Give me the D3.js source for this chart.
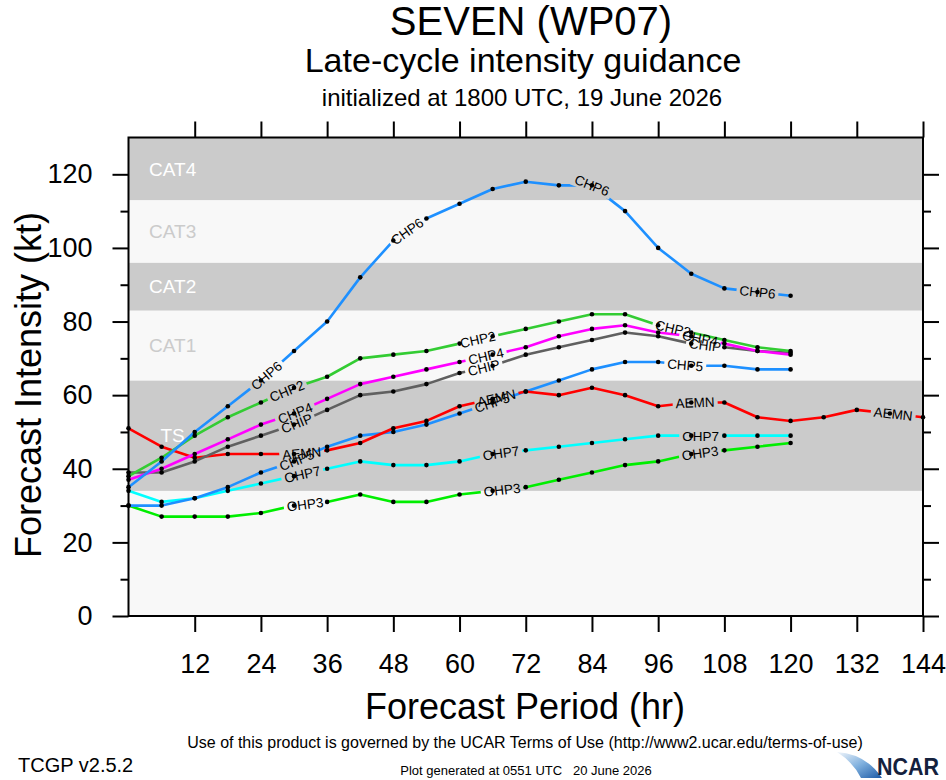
<!DOCTYPE html>
<html><head><meta charset="utf-8">
<script src="https://cdn.jsdelivr.net/npm/d3@7"></script>
<style>
body{margin:0;background:#fff}
svg{display:block}
text{font-family:"Liberation Sans",Arial,Helvetica,sans-serif}
</style>
</head><body>
<svg id="c" width="946" height="780"></svg>
<script>
// ---------------- data ----------------
const hours = d3.range(0, 121, 6);
const hoursLong = d3.range(0, 145, 6);

const CHP6 = [35,42,50,57,64,72,80,92,102,108,112,116,118,117,117,110,100,93,89,88,87];
const CHP2 = [38,43,49,54,58,62,65,70,71,72,74,76,78,80,82,82,79,77,75,73,72];
const CHP4 = [37,40,44,48,52,55,59,63,65,67,69,71,73,76,78,79,77,76,74,72,71];
const CHIP = [39,39,42,46,49,52,56,60,61,63,66,68,71,73,75,77,76,74,73,72,71.5];
const AEMN = [51,46,43,44,44,44,45,47,51,53,57,59,61,60,62,60,57,58,58,54,53,54,56,55,54];
const CHP5 = [30,30,32,35,39,42,46,49,50,52,55,58,61,64,67,69,69,68,68,67,67];
const OHP7 = [34,31,32,34,36,38,40,42,41,41,42,44,45,46,47,48,49,49,49,49,49];
const OHP3 = [30,27,27,27,28,30,31,33,31,31,33,34,35,37,39,41,42,44,45,46,47];

// hours at which each series carries its inline name label
const labCHP6 = [25, 50.5, 84, 114];
const labCHP2 = [28.7, 63.3, 98.7];
const labCHP4 = [30.2, 64.8, 103.6];
const labCHIP = [30.5, 64.4, 104.5];
const labAEMN = [31.4, 66.7, 102.7, 138.6];
const labCHP5 = [30.5, 65.9, 100.9];
const labOHP7 = [31.5, 67.5, 103.7];
const labOHP3 = [32, 67.7, 103.6];

const seriesNames  = ["OHP3","OHP7","CHP5","AEMN","CHIP","CHP4","CHP2","CHP6"];
const seriesValues = [OHP3, OHP7, CHP5, AEMN, CHIP, CHP4, CHP2, CHP6];
const seriesLabels = [labOHP3, labOHP7, labCHP5, labAEMN, labCHIP, labCHP4, labCHP2, labCHP6];
const seriesColors = ["#00ee00","#00ffff","#1e90ff","#ff0000","#606060","#ff00ff","#33cc33","#1e90ff"];

// intensity category bands (kt)
const bandNames = ["TS","CAT1","CAT2","CAT3","CAT4"];
const bandLow   = [34, 64, 83, 96, 113];
const bandHigh  = [64, 83, 96, 113, 130];

const xTicks = [12,24,36,48,60,72,84,96,108,120,132,144];
const yTicks = [0,20,40,60,80,100,120];
const yMinor = [10,30,50,70,90,110];

// ---------------- chart ----------------
const svg = d3.select("#c");
const FONT = '"Liberation Sans",Arial,Helvetica,sans-serif';
const x = d3.scaleLinear().domain([0,144]).range([128.5, 923]);
const y = d3.scaleLinear().domain([0,130]).range([616, 137.5]);

const defs = svg.append("defs");

// plot background and bands
svg.append("rect")
  .attr("x", x(0)).attr("y", y(130))
  .attr("width", x(144)-x(0)).attr("height", y(0)-y(130))
  .attr("fill", "#f8f8f8");

const bands = bandNames.map((n,i)=>({name:n, lo:bandLow[i], hi:bandHigh[i], dark:i%2===0}));
svg.selectAll("rect.band").data(bands).join("rect")
  .attr("class","band")
  .attr("x", x(0)).attr("width", x(144)-x(0))
  .attr("y", d=>y(d.hi)).attr("height", d=>y(d.lo)-y(d.hi))
  .attr("fill", d=>d.dark ? "#cbcbcb" : "#f8f8f8");
svg.selectAll("text.band").data(bands).join("text")
  .attr("class","band")
  .attr("x", x(8)).attr("y", d=>y((d.lo+d.hi)/2))
  .attr("dy","0.36em")
  .attr("text-anchor","middle")
  .attr("font-size", 19)
  .attr("fill", d=>d.dark ? "#ffffff" : "#cbcbcb")
  .text(d=>d.name);

// series
const series = seriesNames.map((n,i)=>{
  const hs = seriesValues[i].length === hoursLong.length ? hoursLong : hours;
  return {name:n, color:seriesColors[i], labels:seriesLabels[i],
          pts: seriesValues[i].map((v,j)=>({h:hs[j], v:v}))};
});
function valAt(pts, h){
  for(let j=0;j<pts.length-1;j++){
    if(h>=pts[j].h && h<=pts[j+1].h){
      const t=(h-pts[j].h)/(pts[j+1].h-pts[j].h);
      return pts[j].v+(pts[j+1].v-pts[j].v)*t;
    }
  }
  return pts[pts.length-1].v;
}
const line = d3.line().x(d=>x(d.h)).y(d=>y(d.v));

const lineG = svg.append("g");
const dotG = svg.append("g");
const labG = svg.append("g");

series.forEach((s,i)=>{
  const maskId = "m"+i;
  const mask = defs.append("mask").attr("id",maskId).attr("maskUnits","userSpaceOnUse")
    .attr("x",0).attr("y",0).attr("width",946).attr("height",780);
  mask.append("rect").attr("x",0).attr("y",0).attr("width",946).attr("height",780).attr("fill","#fff");

  lineG.append("path").datum(s.pts)
    .attr("d", line)
    .attr("fill","none")
    .attr("stroke", s.color)
    .attr("stroke-width", 2.6)
    .attr("stroke-linejoin","round")
    .attr("mask", `url(#${maskId})`);

  dotG.selectAll(null).data(s.pts).join("circle")
    .attr("cx", d=>x(d.h)).attr("cy", d=>y(d.v))
    .attr("r", 2.3).attr("fill","#000");

  s.labels.forEach(h=>{
    const px = x(h), py = y(valAt(s.pts,h));
    const h0 = Math.max(s.pts[0].h, h-3), h1 = Math.min(s.pts[s.pts.length-1].h, h+3);
    const ang = Math.atan2(y(valAt(s.pts,h1))-y(valAt(s.pts,h0)), x(h1)-x(h0))*180/Math.PI;
    const t = labG.append("text")
      .attr("transform", `translate(${px},${py}) rotate(${ang})`)
      .attr("text-anchor","middle")
      .attr("dy","0.36em")
      .attr("font-size", 13.5)
      .attr("fill","#000")
      .text(s.name);
    const w = t.node().getComputedTextLength() + 6;
    mask.append("rect")
      .attr("x", -w/2).attr("y", -7).attr("width", w).attr("height", 14)
      .attr("transform", `translate(${px},${py}) rotate(${ang})`)
      .attr("fill","#000");
  });
});

// axes
function styleAxis(g){
  g.select(".domain").remove();
  g.selectAll(".tick line").attr("stroke","#000").attr("stroke-width",2);
  g.selectAll(".tick text").attr("font-family",FONT).attr("font-size",27).attr("fill","#000");
}
svg.append("g").attr("transform",`translate(0,${y(0)})`)
  .call(d3.axisBottom(x).tickValues(xTicks).tickSize(16).tickPadding(22)).call(styleAxis);
svg.append("g").attr("transform",`translate(0,${y(130)})`)
  .call(d3.axisTop(x).tickValues(xTicks).tickSize(16).tickFormat("")).call(styleAxis);
svg.append("g").attr("transform",`translate(${x(0)},0)`)
  .call(d3.axisLeft(y).tickValues(yTicks).tickSize(16).tickPadding(20)).call(styleAxis);
svg.append("g").attr("transform",`translate(${x(0)},0)`)
  .call(d3.axisLeft(y).tickValues(yMinor).tickSize(8).tickFormat("")).call(styleAxis);
svg.append("g").attr("transform",`translate(${x(144)},0)`)
  .call(d3.axisRight(y).tickValues(yTicks).tickSize(16).tickFormat("")).call(styleAxis);
svg.append("g").attr("transform",`translate(${x(144)},0)`)
  .call(d3.axisRight(y).tickValues(yMinor).tickSize(8).tickFormat("")).call(styleAxis);

// frame
svg.append("rect")
  .attr("x", x(0)).attr("y", y(130))
  .attr("width", x(144)-x(0)).attr("height", y(0)-y(130))
  .attr("fill","none").attr("stroke","#000").attr("stroke-width",2);

// axis titles
svg.append("text").attr("x", 525).attr("y", 719).attr("text-anchor","middle")
  .attr("font-size", 36).text("Forecast Period (hr)");
svg.append("text").attr("transform","translate(41,385) rotate(-90)").attr("text-anchor","middle")
  .attr("font-size", 36).text("Forecast Intensity (kt)");

// titles
svg.append("text").attr("x", 531).attr("y", 35).attr("text-anchor","middle")
  .attr("font-size", 40).text("SEVEN (WP07)");
svg.append("text").attr("x", 523).attr("y", 72).attr("text-anchor","middle")
  .attr("font-size", 34).text("Late-cycle intensity guidance");
svg.append("text").attr("x", 522).attr("y", 106).attr("text-anchor","middle")
  .attr("font-size", 24).text("initialized at 1800 UTC, 19 June 2026");

// footer
svg.append("text").attr("x", 525).attr("y", 748).attr("text-anchor","middle")
  .attr("font-size", 16).text("Use of this product is governed by the UCAR Terms of Use (http://www2.ucar.edu/terms-of-use)");
svg.append("text").attr("x", 18).attr("y", 772)
  .attr("font-size", 20).text("TCGP v2.5.2");
svg.append("text").attr("x", 526).attr("y", 775).attr("text-anchor","middle")
  .attr("font-size", 13).attr("xml:space","preserve").text("Plot generated at 0551 UTC   20 June 2026");

// NCAR logo
const grad = defs.append("linearGradient").attr("id","ncg").attr("x1","0").attr("y1","0").attr("x2","1").attr("y2","1");
grad.append("stop").attr("offset","0").attr("stop-color","#f2f6fb");
grad.append("stop").attr("offset","0.5").attr("stop-color","#7fb0de");
grad.append("stop").attr("offset","1").attr("stop-color","#1c5aa6");
svg.append("path")
  .attr("d","M837,752 Q866,754 882,778 L861,778 Q853,762 837,752 Z")
  .attr("fill","url(#ncg)");
svg.append("text").attr("x", 877).attr("y", 775)
  .attr("font-size", 23).attr("font-weight","bold").attr("fill","#14213d")
  .attr("textLength", 62).attr("lengthAdjust","spacingAndGlyphs").text("NCAR");
</script>
</body></html>
